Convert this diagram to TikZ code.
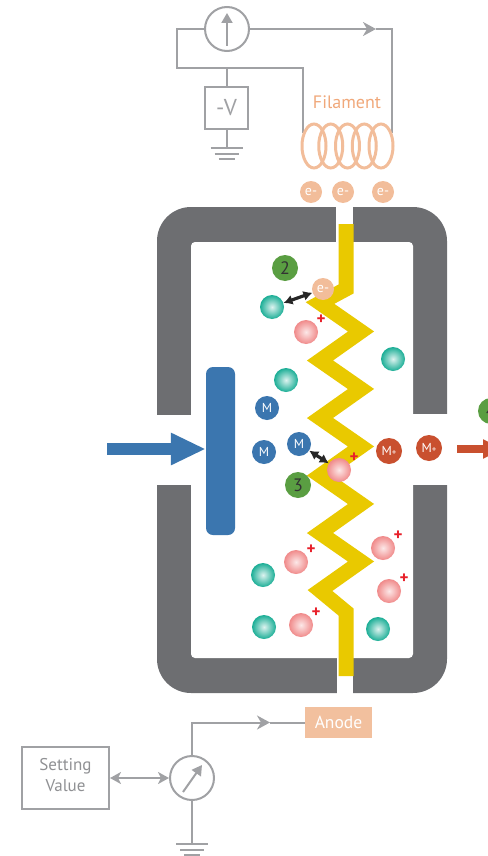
\documentclass[tikz,border=0pt]{standalone}
\usepackage{fontspec}
\setmainfont{PT Sans}
\usetikzlibrary{arrows.meta,positioning,calc}
\definecolor{wallgray}{HTML}{6D6E71}
\definecolor{wiregray}{HTML}{A0A1A4}
\definecolor{plateblue}{HTML}{3B76AF}
\definecolor{ionred}{HTML}{C9502F}
\definecolor{zigyellow}{HTML}{E9C900}
\definecolor{peach}{HTML}{F2BD9A}
\definecolor{peachtext}{HTML}{F0A87A}
\definecolor{anodefill}{HTML}{F2C09E}
\definecolor{gasteal}{HTML}{1BAE96}
\definecolor{gaspink}{HTML}{F08A8A}
\definecolor{stagegreen}{HTML}{5A9E42}
\definecolor{plusred}{HTML}{E8202A}
\newcommand{\fs}[1]{\fontsize{#1}{#1}\selectfont}
\tikzset{
  wire/.style={draw=wiregray, line width=2pt},
  fwd/.style={-{Stealth[length=13pt,width=14pt,inset=4pt]}},
  gbox/.style={draw=wiregray, line width=2pt, fill=white, text=wiregray,
    align=center, inner sep=0pt},
  meter/.style={circle, draw=wiregray, line width=2pt, fill=white,
    minimum size=44pt, inner sep=0pt},
  needle/.style={wiregray, line width=2pt, -{Triangle[length=10pt,width=11pt]}},
  eln/.style={circle, fill=peach, minimum size=22pt, inner sep=0pt,
    text=white, font=\fs{14}},
  neutral/.style={circle, minimum size=24pt, inner sep=0pt,
    inner color=gasteal!15!white, outer color=gasteal},
  cation/.style={circle, minimum size=24pt, inner sep=0pt,
    inner color=gaspink!20!white, outer color=gaspink},
  plus/.style={text=plusred, font=\bfseries\fs{17}, inner sep=0pt},
  mol/.style={circle, fill=plateblue, minimum size=24pt, inner sep=0pt,
    text=white, font=\fs{13}},
  molion/.style={mol, fill=ionred, minimum size=26pt},
  stage/.style={circle, fill=stagegreen, minimum size=26pt, inner sep=0pt,
    text=black!80, font=\fs{18}},
  bump/.style={{Latex[length=9pt,width=10pt]}-{Latex[length=9pt,width=10pt]},
    line width=3.2pt, black!85},
  earth/.pic={
    \draw[wire] (-16,0) -- (16,0) (-12,5.5) -- (12,5.5) (-8,11) -- (8,11);
  },
}

\begin{document}
\begin{tikzpicture}[x=1pt, y=-1pt]
  \useasboundingbox (0,0) rectangle (487,856);

  % chamber walls with the four openings
  \fill[wallgray, rounded corners=34pt] (157,207) rectangle (447,693);
  \fill[white, rounded corners=4pt] (191,242) rectangle (413,658);
  \fill[white] (336,204) rectangle (353,244);
  \fill[white] (337,656) rectangle (353,696);
  \fill[white] (150,415) rectangle (193,485);
  \fill[white] (411,414) rectangle (450,485);

  % ionising region
  \draw[zigyellow, line width=15pt, line join=miter]
    (346,224) -- (346,289) -- (320,303) -- (361,331.5) -- (320,360.5)
    -- (361,389) -- (320,418) -- (361,446.5) -- (320,475.5) -- (361,504)
    -- (320,533) -- (361,561.5) -- (320,590.5) -- (346,612) -- (346,676);

  % repeller and incoming beam
  \node[fill=plateblue, rounded corners=7pt, minimum width=29pt,
    minimum height=168pt, inner sep=0pt] (repeller) at (220.5,451) {};
  \coordinate (feed) at (107,449);
  \draw[plateblue, line width=12pt, -{Triangle[length=35pt,width=30pt]}]
    (feed) -- (feed -| repeller.west);

  % filament circuit
  \node[meter] (ammeter) at (227,29) {};
  \draw[needle] ([yshift=6pt]ammeter.south) -- ([yshift=-7pt]ammeter.north);
  \coordinate (loopL) at (177,68);
  \coordinate (coilL) at (303,133);
  \coordinate (coilR) at (392,133);
  \coordinate (fwdA) at (376,29);
  \draw[wire] (ammeter.west) -| (loopL) -| (coilL);
  \draw[wire, fwd] (ammeter.east) -- (fwdA);
  \draw[wire] (fwdA) -| (coilR);
  \node[gbox, minimum width=43pt, minimum height=42pt, font=\fs{23}]
    (bias) at (226.5,108) {-V};
  \draw[wire] (loopL -| bias) -- (bias.north);
  \draw[wire] (bias.south) -- ++(0,18) coordinate (gndA);
  \pic at (gndA) {earth};
  \foreach \k in {0,...,4}
    \draw[peach, line width=3pt] (314+16.75*\k,146) ellipse [x radius=12pt, y radius=22pt];
  \node[text=peachtext, font=\fs{18}] (filtext) at (347,102) {Filament};
  \foreach \x [count=\i] in {311,343,383}
    \node[eln] (emit\i) at (\x,192) {e-};

  % particles in the chamber
  \node[stage] (stage2) at (285,268) {2};
  \node[stage] (stage3) at (298,485) {3};
  \node[stage] (stage4) at (491,411) {4};
  \node[eln] (hit) at (323,289) {e-};
  \foreach \x/\y [count=\i] in {272/307, 393/359, 286/380, 263/575, 264/627, 378/629}
    \node[neutral] (gas\i) at (\x,\y) {};
  \foreach \x/\y [count=\i] in {306/332, 339/470, 296/562, 383/548, 389/591, 301/625} {
    \node[cation] (pos\i) at (\x,\y) {};
    \node[plus] (plus\i) at (\x+15,\y-12.5) {+};
  }
  \foreach \x/\y [count=\i] in {267/408, 264/452, 299/444}
    \node[mol] (mol\i) at (\x,\y) {M};
  \foreach \x/\y [count=\i] in {389/451, 429/448}
    \node[molion] (ion\i) at (\x,\y) {M{\fs{9}+}};
  \draw[bump] (gas1) -- (hit);
  \draw[bump] (mol3) -- (pos2);
  \coordinate (outA) at (457,449);
  \coordinate (outB) at (503,449);
  \draw[ionred, line width=8pt, -{Triangle[length=20pt,width=18pt]}] (outA) -- (outB);

  % anode circuit
  \node[fill=anodefill, text=white, font=\fs{17.5}, minimum width=67pt,
    minimum height=31pt, inner sep=0pt] (anode) at (338.5,722.5) {Anode};
  \node[meter] (setmeter) at (192,778) {};
  \draw[needle] ([shift={(-9pt,-14pt)}]setmeter.center)
    -- ([shift={(10pt,13pt)}]setmeter.center);
  \coordinate (fwdB) at (270,722.5);
  \draw[wire, fwd] (setmeter.north) |- (fwdB);
  \draw[wire] (fwdB) -- (anode.west);
  \node[gbox, minimum width=87pt, minimum height=62pt, font=\fs{17},
    text=wiregray!90!black] (setval) at (65.5,778) {\raisebox{6pt}{\shortstack{Setting\\[3pt]Value}}};
  \draw[wire, {Stealth[length=11pt,width=12pt,inset=3pt]}-{Stealth[length=11pt,width=12pt,inset=3pt]}]
    (setval.east) -- (setmeter.west);
  \draw[wire] (setmeter.south) -- ++(0,43) coordinate (gndB);
  \pic at (gndB) {earth};
\end{tikzpicture}
\end{document}
